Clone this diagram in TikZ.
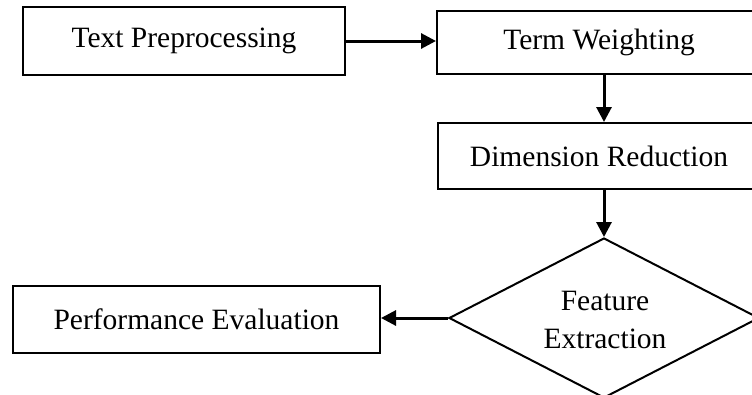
\documentclass[tikz,border=0pt]{standalone}
\usepackage{fontspec}
\setmainfont{Liberation Serif}
\usetikzlibrary{shapes.geometric,arrows.meta}

\tikzset{
  labelfont/.style={font=\fontsize{29.5}{38}\selectfont},
  stagebox/.style={draw, line width=2pt, inner sep=0pt, rectangle, labelfont},
  decision/.style={draw, line width=2pt, inner sep=0pt, diamond,
    minimum width=310pt, minimum height=160pt},
  flow/.style={line width=3pt, -{Triangle[length=15pt,width=15pt]}}
}

\begin{document}
\begin{tikzpicture}[x=1pt,y=-1pt]
  \useasboundingbox (0,0) rectangle (752,394);
  \clip (0,0) rectangle (752,394);

  % processing stages
  \node[stagebox, minimum width=322pt, minimum height=68pt] (tp) at (184,41) {Text Preprocessing};
  \node[stagebox, minimum width=332pt, minimum height=63pt] (tw) at (603,42.5) {\hspace*{-8pt}Term Weighting};
  \node[stagebox, minimum width=330pt, minimum height=66pt] (dr) at (603,156) {\hspace*{-8pt}Dimension Reduction};
  \node[decision] (fe) at (604,318) {};
  \node[labelfont, align=center, inner sep=0pt, anchor=base] (fetext) at (605,348) {Feature\\Extraction};
  \node[stagebox, minimum width=367pt, minimum height=67pt] (pe) at (196.5,319.5) {Performance Evaluation};

  % connectors
  \draw[flow] (tp.east) -- (tp.east -| tw.west);
  \draw[flow] (tw.south -| fe.north) -- (dr.north -| fe.north);
  \draw[flow] (dr.south -| fe.north) -- (fe.north);
  \draw[flow] (fe.west) -- (fe.west -| pe.east);
\end{tikzpicture}
\end{document}
